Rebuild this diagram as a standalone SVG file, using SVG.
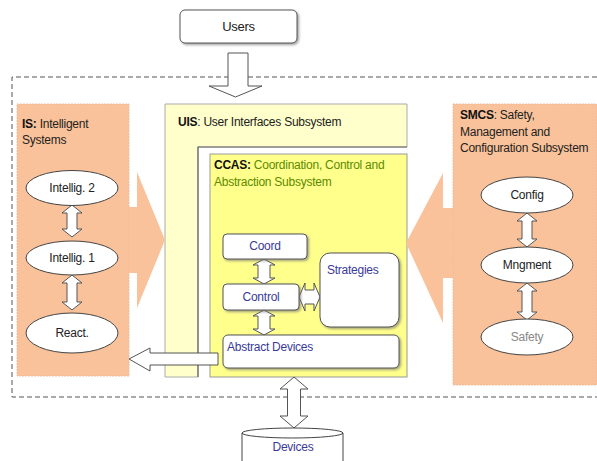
<svg xmlns="http://www.w3.org/2000/svg" width="597" height="461" viewBox="0 0 597 461">
<defs>
<style>
text{font-family:"Liberation Sans",Arial,sans-serif;font-size:12px;fill:#222;letter-spacing:-0.25px}
.c{text-anchor:middle}
.b{font-weight:bold;fill:#111}
.blue{fill:#3a3a9a}
.green{fill:#5c8a00}
.org{fill:#FAC29A}
.ell{fill:#fff;stroke:#444;stroke-width:1}
.wbox{fill:#fff;stroke:#555;stroke-width:1}
.arr{fill:#fff;stroke:#555;stroke-width:1}
</style>
<filter id="sh" x="-10%" y="-10%" width="130%" height="140%"><feDropShadow dx="1.5" dy="1.5" stdDeviation="0.8" flood-color="#777" flood-opacity="0.7"/></filter>
</defs>
<rect width="597" height="461" fill="#fff"/>
<path d="M597 77 H12 V397 H597" fill="none" stroke="#555" stroke-width="1" stroke-dasharray="5,3"/>

<g id="users"><rect x="180" y="10" width="117" height="33" rx="5" class="wbox" filter="url(#sh)"/><text x="238.5" y="31" class="c" style="font-size:13px">Users</text></g>

<g id="is">
<rect x="17" y="104" width="112" height="272" class="org" stroke="#e8b894" stroke-width="0.8" stroke-dasharray="2,1"/>
<text x="22" y="128"><tspan class="b">IS:</tspan> Intelligent</text>
<text x="22" y="144">Systems</text>
</g>
<g id="smcs">
<rect x="453" y="104" width="144" height="281" class="org" stroke="#e8b894" stroke-width="0.8" stroke-dasharray="2,1"/>
<text x="460" y="119"><tspan class="b">SMCS</tspan>: Safety,</text>
<text x="460" y="136">Management and</text>
<text x="460" y="152">Configuration Subsystem</text>
</g>

<g id="uis">
<path d="M165 104 H407 V147 H198 V377 H165 Z" fill="#FFFFCC" stroke="#aaa" stroke-width="1"/>
<path d="M198 377 V147 H407" fill="none" stroke="#666" stroke-width="1.2"/>
<text x="178" y="126"><tspan class="b">UIS</tspan>: User Interfaces Subsystem</text>
</g>
<g id="ccas">
<rect x="210" y="154" width="197" height="223" fill="#FFFF8C" stroke="#999" stroke-width="1"/>
<text x="214" y="169"><tspan class="b">CCAS:</tspan><tspan class="green"> Coordination, Control and</tspan></text>
<text x="214" y="186" class="green">Abstraction Subsystem</text>
</g>

<g id="connectors">
<path d="M129 207 H137 V172 L165 240 L137 308 V273 H129 Z" class="org"/>
<path d="M453 208 H443 V173 L406 243 L443 323 V278 H453 Z" class="org"/>
<path d="M228 53 H248 V86 H262 L235.5 97 L209 86 H228 Z" class="arr"/>
<path d="M218 353 H150 V348 L129 359 L150 371 V365 H218 Z" class="arr"/>
<path d="M294 377 L308 389 L300.5 389 L300.5 416 L308 416 L294 428 L280 416 L287.5 416 L287.5 389 L280 389 Z" class="arr"/>
<path d="M72 205 L82 213 L77 213 L77 229 L82 229 L72 237 L62 229 L67 229 L67 213 L62 213 Z" class="arr"/>
<path d="M72 275 L82 283 L77 283 L77 302 L82 302 L72 310 L62 302 L67 302 L67 283 L62 283 Z" class="arr"/>
<path d="M527 213 L537 221 L532 221 L532 239 L537 239 L527 247 L517 239 L522 239 L522 221 L517 221 Z" class="arr"/>
<path d="M527 283 L537 291 L532 291 L532 312 L537 312 L527 320 L517 312 L522 312 L522 291 L517 291 Z" class="arr"/>
<path d="M264 259 L275 265 L270 265 L270 278 L275 278 L264 284 L253 278 L258 278 L258 265 L253 265 Z" class="arr"/>
<path d="M264 310 L275 316 L270 316 L270 329 L275 329 L264 335 L253 329 L258 329 L258 316 L253 316 Z" class="arr"/>
<path d="M299 297 L305 283 L305 290 L314 290 L314 283 L320 297 L314 311 L314 304 L305 304 L305 311 Z" class="arr"/>
</g>

<g id="intellig2"><ellipse cx="72" cy="188" rx="46" ry="17.5" class="ell"/><text x="72" y="192" class="c">Intellig. 2</text></g>
<g id="intellig1"><ellipse cx="72" cy="258" rx="46" ry="17" class="ell"/><text x="72" y="262" class="c">Intellig. 1</text></g>
<g id="react"><ellipse cx="72" cy="333" rx="46" ry="20" class="ell"/><text x="72" y="337" class="c">React.</text></g>

<g id="config"><ellipse cx="527" cy="195" rx="46" ry="18" class="ell"/><text x="527" y="199" class="c">Config</text></g>
<g id="mngment"><ellipse cx="527" cy="265" rx="46" ry="18" class="ell"/><text x="527" y="269" class="c">Mngment</text></g>
<g id="safety"><ellipse cx="527" cy="337" rx="46" ry="18" class="ell"/><text x="527" y="341" class="c" style="fill:#888">Safety</text></g>

<g id="coord"><rect x="223" y="234" width="84" height="25" rx="4" class="wbox" filter="url(#sh)"/><text x="265" y="250" class="c blue">Coord</text></g>
<g id="control"><rect x="223" y="284" width="76" height="26" rx="4" class="wbox" filter="url(#sh)"/><text x="261" y="301" class="c blue">Control</text></g>
<g id="strategies"><rect x="320" y="253" width="79" height="74" rx="10" class="wbox" filter="url(#sh)"/><text x="327" y="274" class="blue">Strategies</text></g>
<g id="abstract"><rect x="223" y="335" width="176" height="33" rx="5" class="wbox" filter="url(#sh)"/><text x="227" y="351" class="blue">Abstract  Devices</text></g>

<g id="devices">
<rect x="242" y="433" width="101" height="30" fill="#fff"/>
<path d="M242 433 V461 M343 433 V461" stroke="#444" fill="none"/>
<ellipse cx="292.5" cy="433" rx="50.5" ry="5" class="ell"/>
<text x="293" y="451" class="c blue">Devices</text>
</g>
</svg>
